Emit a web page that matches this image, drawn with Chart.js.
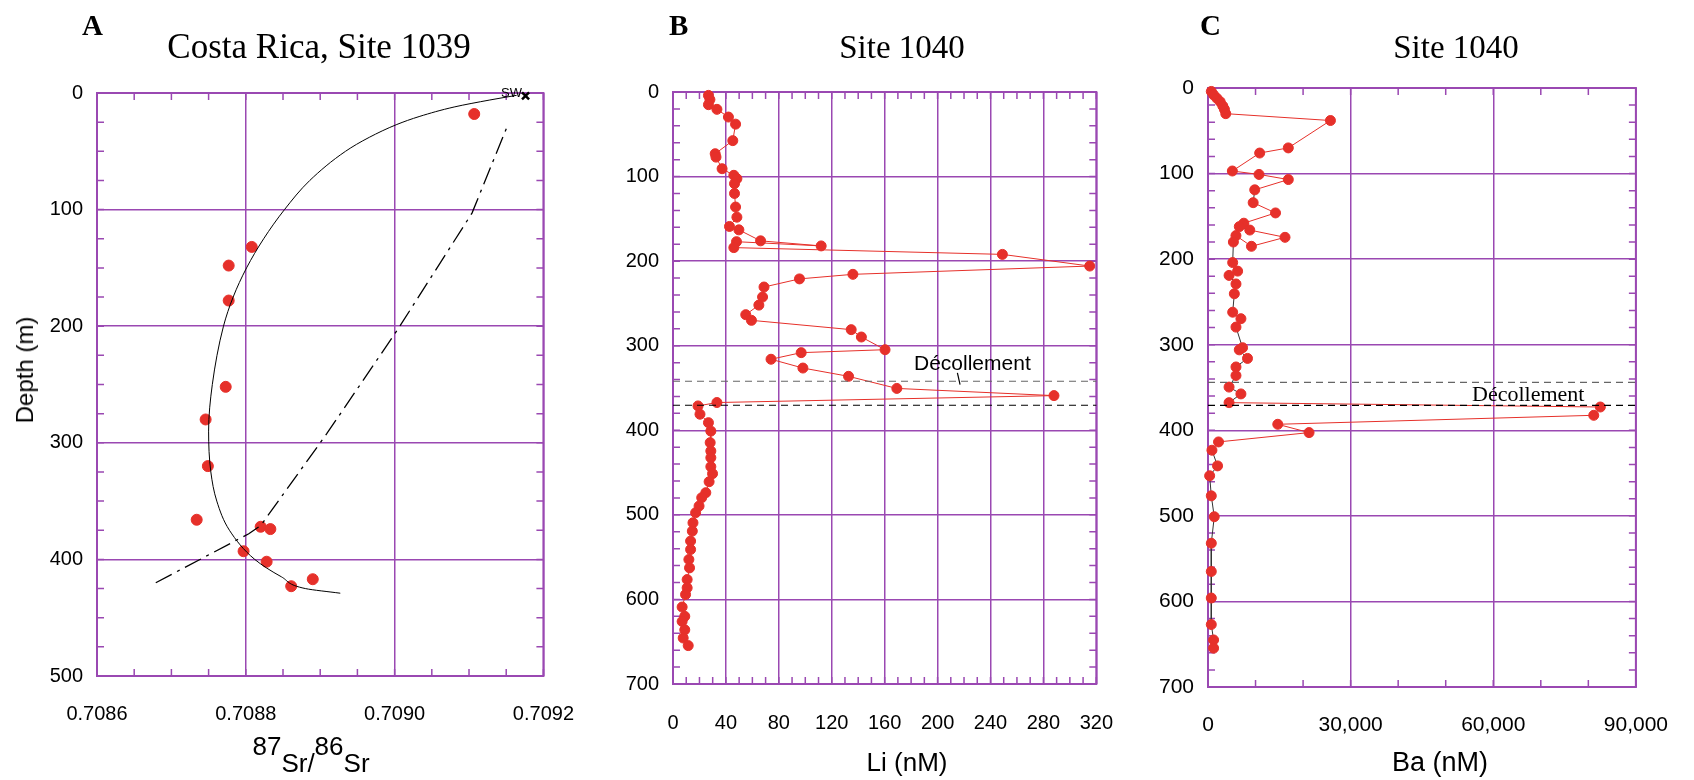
<!DOCTYPE html>
<html>
<head>
<meta charset="utf-8">
<script src="https://cdn.jsdelivr.net/npm/chart.js@4.4.1/dist/chart.umd.min.js"></script>
<style>
  body { margin: 0; background: #fff; width: 1694px; height: 780px; position: relative; overflow: hidden; }
  canvas { position: absolute; top: 0; }
  .t { position: absolute; line-height: 1; white-space: nowrap; color: #000; }
  .serif { font-family: "Liberation Serif", "Times New Roman", serif; }
  .sans { font-family: "Liberation Sans", Arial, sans-serif; }
  .c { transform: translateX(-50%); }
  .sup { position: relative; top: -17px; }
</style>
</head>
<body>
<canvas id="chartA" width="600" height="780" style="left:0px"></canvas>
<canvas id="chartB" width="540" height="780" style="left:600px"></canvas>
<canvas id="chartC" width="554" height="780" style="left:1140px"></canvas>

<div class="t serif" style="left:82px;top:11px;font-size:29px;font-weight:bold">A</div>
<div class="t serif" style="left:669px;top:11px;font-size:29px;font-weight:bold">B</div>
<div class="t serif" style="left:1200px;top:11px;font-size:29px;font-weight:bold">C</div>

<div class="t serif c" style="left:319px;top:29px;font-size:35px">Costa Rica, Site 1039</div>
<div class="t serif c" style="left:902px;top:31px;font-size:33px">Site 1040</div>
<div class="t serif c" style="left:1456px;top:31px;font-size:33px">Site 1040</div>

<div class="t sans" style="left:25px;top:370px;font-size:24px;transform:translate(-50%,-50%) rotate(-90deg)">Depth (m)</div>
<div class="t sans c" style="left:311px;top:750px;font-size:26px"><span class="sup">87</span>Sr/<span class="sup">86</span>Sr</div>
<div class="t sans c" style="left:907px;top:749px;font-size:26px">Li (nM)</div>
<div class="t sans c" style="left:1440px;top:749px;font-size:27px">Ba (nM)</div>

<div class="t sans" style="left:501px;top:86px;font-size:13px">SW</div>
<div class="t sans" style="left:914px;top:352px;font-size:21px">Décollement</div>
<div class="t serif" style="left:1472px;top:383px;font-size:22px">Décollement</div>

<script>
// ---- Panel A: Costa Rica, Site 1039 (87Sr/86Sr vs depth)
const aSr    = [0.709107, 0.708808, 0.708777, 0.708777, 0.708773, 0.708746, 0.708749, 0.708734, 0.708820, 0.708833, 0.708797, 0.708828, 0.708861, 0.708890];
const aDepth = [18, 132, 148, 178, 252, 280, 320, 366, 372, 374, 393, 402, 423, 417];
const aCurveSr    = [0.709164, 0.709128, 0.709080, 0.709034, 0.709003, 0.708966, 0.708934, 0.708886, 0.708852, 0.708824, 0.708801, 0.708783, 0.708770, 0.708755, 0.708750, 0.708753, 0.708761, 0.708778, 0.708812, 0.708848, 0.708880, 0.708927];
const aCurveDepth = [2, 6, 12, 20, 27, 38, 50, 75, 100, 125, 150, 175, 200, 250, 290, 325, 350, 375, 400, 415, 425, 429];
const aMixSr    = [0.708679, 0.708804, 0.708820, 0.708909, 0.709004, 0.709104, 0.709153];
const aMixDepth = [420, 378, 371, 292, 203, 103, 26];
const aSwSr = [0.709176];
const aSwDepth = [2.5];
const aXTicks = [0.7086, 0.7088, 0.7090, 0.7092];
const aYTicks = [0, 100, 200, 300, 400, 500];

// ---- Panel B: Site 1040, Li
const bLi = [26.8, 27.9, 26.8, 33.2, 41.9, 47.3, 45.2, 31.9, 32.5, 37.1, 46.0, 48.3, 46.5, 46.5, 47.3, 48.3, 42.7, 49.8, 66.2, 112, 48, 46,
  249, 315, 136, 95.6, 68.8, 67.7, 64.9, 55, 59.3, 134.7, 142.4, 160.3, 96.9, 74.1, 98.2, 132.7, 169.2, 288, 33.2, 18.9,
  20.4, 26.8, 28.6, 28.1, 28.6, 28.6, 28.6, 29.9, 27.3, 24.8, 21.7, 19.7, 17.1, 15.1, 14.6, 13.3, 13.3, 12, 12.5, 10.7, 10.7, 9.5, 6.9, 8.9, 6.9, 8.9, 7.7, 11.5];
const bDepth = [4, 9, 15, 20.5, 29.6, 38, 57.5, 73, 77, 90.7, 98.5, 102.5, 108.4, 120, 136, 148, 159, 163, 176, 182, 177, 184,
  192, 205.8, 215.6, 221, 230.6, 242.4, 252, 263.3, 270, 281, 289.7, 304.7, 308.2, 316, 326.4, 336.2, 350.5, 359, 367.2, 371.2,
  381, 391, 401, 414.6, 424.5, 432.4, 443, 451.3, 460.8, 473.8, 479.7, 489.6, 497.5, 509.4, 519.2, 531, 541, 552.8, 562.7, 576.5, 586.3, 594.2, 609, 620, 626, 636, 645.6, 654.6];
const bXTicks = [0, 40, 80, 120, 160, 200, 240, 280, 320];
const bYTicks = [0, 100, 200, 300, 400, 500, 600, 700];
const bDecollement = [342, 370.4];
const bLeaderLi = [215, 217];
const bLeaderDepth = [332, 346];

// ---- Panel C: Site 1040, Ba
const cBa = [692, 1177, 1869, 2562, 3115, 3462, 3738, 25754, 16892, 10869, 5123, 10731, 16892, 9831, 9500, 14200, 7540, 6584, 8786, 16200, 9138, 5878, 5338,
  5192, 6231, 4431, 5885, 5539, 5192, 6923, 5885, 7269, 6577, 8308, 5885, 5885, 4431, 6923, 4431, 82523, 81138, 14677, 21254,
  2215, 830, 2008, 346, 692, 1315, 692, 692, 692, 692, 1177, 1177];
const cDepth = [4, 8, 12, 16, 21, 25, 30, 38, 70, 76, 97, 101, 107, 119, 134, 146, 158, 162, 166, 174.5, 185, 172.5, 180,
  204, 214, 219, 229, 240.5, 262, 269.6, 279.4, 303.5, 306, 316, 326, 336, 349.5, 357.5, 367.7, 372.8, 382.5, 393, 402.7,
  413.6, 423.3, 441.6, 453.2, 476.6, 501, 532, 565, 596, 627, 645, 654.6];
const cXTicks = [0, 30000, 60000, 90000];
const cYTicks = [0, 100, 200, 300, 400, 500, 600, 700];
const cDecollement = [344, 370.8];

const PURPLE = '#9a48b2';
const RED = '#e6302a';
const SANS = '"Liberation Sans", Arial, sans-serif';

function pts(xs, ys) {
  return xs.map((x, i) => ({ x: x, y: ys[i] }));
}

function steps(min, max, step) {
  const out = [];
  for (let v = min; v <= max + step / 2; v += step) out.push(v);
  return out;
}

// purple box round the plot plus the small inward ticks
const framePlugin = {
  id: 'frame',
  beforeDatasetsDraw(chart, args, opts) {
    const ctx = chart.ctx;
    const a = chart.chartArea;
    const x = chart.scales.x;
    const y = chart.scales.y;
    ctx.save();
    ctx.strokeStyle = PURPLE;
    ctx.lineWidth = 1.5;
    ctx.beginPath();
    opts.minorX.forEach(v => {
      const px = x.getPixelForValue(v);
      ctx.moveTo(px, a.top); ctx.lineTo(px, a.top + 7);
      ctx.moveTo(px, a.bottom); ctx.lineTo(px, a.bottom - 7);
    });
    opts.minorY.forEach(v => {
      const py = y.getPixelForValue(v);
      ctx.moveTo(a.left, py); ctx.lineTo(a.left + 7, py);
      ctx.moveTo(a.right, py); ctx.lineTo(a.right - 7, py);
    });
    ctx.stroke();
    ctx.lineWidth = 2;
    ctx.strokeRect(a.left, a.top, a.right - a.left, a.bottom - a.top);
    ctx.restore();
  }
};

function makePanel(id, canvasLeft, canvasW, box, xc, yc, fontSize, datasets) {
  new Chart(document.getElementById(id), {
    type: 'scatter',
    data: { datasets: datasets },
    options: {
      responsive: false,
      animation: false,
      events: [],
      layout: { padding: { left: 0, top: box.top, right: canvasLeft + canvasW - box.right, bottom: 0 } },
      plugins: {
        legend: { display: false },
        tooltip: { enabled: false },
        frame: { minorX: xc.minor, minorY: yc.minor }
      },
      scales: {
        x: {
          type: 'linear',
          min: xc.ticks[0],
          max: xc.ticks[xc.ticks.length - 1],
          afterBuildTicks: s => { s.ticks = xc.ticks.map(v => ({ value: v })); },
          afterFit: s => { s.height = 780 - box.bottom; },
          grid: { color: PURPLE, lineWidth: 1.5, drawTicks: false },
          border: { display: false },
          ticks: {
            padding: xc.pad,
            color: '#000',
            maxRotation: 0,
            autoSkip: false,
            font: { family: SANS, size: fontSize },
            callback: xc.fmt
          }
        },
        y: {
          type: 'linear',
          reverse: true,
          min: yc.ticks[0],
          max: yc.ticks[yc.ticks.length - 1],
          afterBuildTicks: s => { s.ticks = yc.ticks.map(v => ({ value: v })); },
          afterFit: s => { s.width = box.left - canvasLeft; },
          grid: { color: PURPLE, lineWidth: 1.5, drawTicks: false },
          border: { display: false },
          ticks: {
            padding: yc.pad,
            color: '#000',
            autoSkip: false,
            font: { family: SANS, size: fontSize },
            callback: v => String(v)
          }
        }
      }
    },
    plugins: [framePlugin]
  });
}

function hline(depth, xmin, xmax, color) {
  return {
    data: [{ x: xmin, y: depth }, { x: xmax, y: depth }],
    showLine: true, borderColor: color, borderWidth: 1.2, borderDash: [7, 5],
    pointRadius: 0, clip: false
  };
}

function redDots(data, lineColor) {
  return {
    data: data,
    showLine: true,
    borderColor: RED,
    borderWidth: 1,
    backgroundColor: RED,
    pointBackgroundColor: RED,
    pointBorderColor: RED,
    pointBorderWidth: 1,
    pointRadius: 5,
    clip: false,
    segment: lineColor ? { borderColor: lineColor } : undefined
  };
}

// Panel A
makePanel('chartA', 0, 600, { left: 97, right: 556, top: 93, bottom: 676 },
  { ticks: aXTicks, minor: steps(0.7086, 0.7092, 0.00005), pad: 26, fmt: v => v.toFixed(4) },
  { ticks: aYTicks, minor: steps(0, 500, 25), pad: 14 },
  20,
  [
    {
      type: 'line', indexAxis: 'y', cubicInterpolationMode: 'monotone',
      data: pts(aCurveSr, aCurveDepth), borderColor: '#000', borderWidth: 1, pointRadius: 0, fill: false
    },
    { data: pts(aMixSr, aMixDepth), showLine: true, borderColor: '#000', borderWidth: 1.3, borderDash: [18, 6, 3, 6], pointRadius: 0 },
    {
      data: pts(aSr, aDepth), showLine: false, pointRadius: 5.5, pointBorderWidth: 1,
      pointBackgroundColor: RED, pointBorderColor: RED, clip: false
    },
    {
      data: pts(aSwSr, aSwDepth), showLine: false, pointStyle: 'crossRot', pointRadius: 5,
      pointBorderColor: '#000', pointBorderWidth: 2.5, clip: false
    }
  ]);

// Panel B
makePanel('chartB', 600, 540, { left: 673, right: 1105, top: 92, bottom: 684 },
  { ticks: bXTicks, minor: steps(0, 320, 10), pad: 27, fmt: v => String(v) },
  { ticks: bYTicks, minor: steps(0, 700, 20), pad: 14 },
  20,
  [
    hline(bDecollement[0], 0, 320, '#666'),
    hline(bDecollement[1], 0, 320, '#000'),
    { data: pts(bLeaderLi, bLeaderDepth), showLine: true, borderColor: '#000', borderWidth: 1.2, pointRadius: 0 },
    redDots(pts(bLi, bDepth))
  ]);

// Panel C: near-vertical joins are drawn dark, the excursions red
makePanel('chartC', 1140, 554, { left: 1208, right: 1659, top: 88, bottom: 687 },
  { ticks: cXTicks, minor: steps(0, 90000, 10000), pad: 26, fmt: v => v.toLocaleString('en-US') },
  { ticks: cYTicks, minor: steps(0, 700, 20), pad: 14 },
  21,
  [
    hline(cDecollement[0], 0, 90000, '#666'),
    hline(cDecollement[1], 0, 90000, '#000'),
    redDots(pts(cBa, cDepth), c => Math.abs(c.p1.x - c.p0.x) > 12 ? RED : '#333')
  ]);
</script>
</body>
</html>
